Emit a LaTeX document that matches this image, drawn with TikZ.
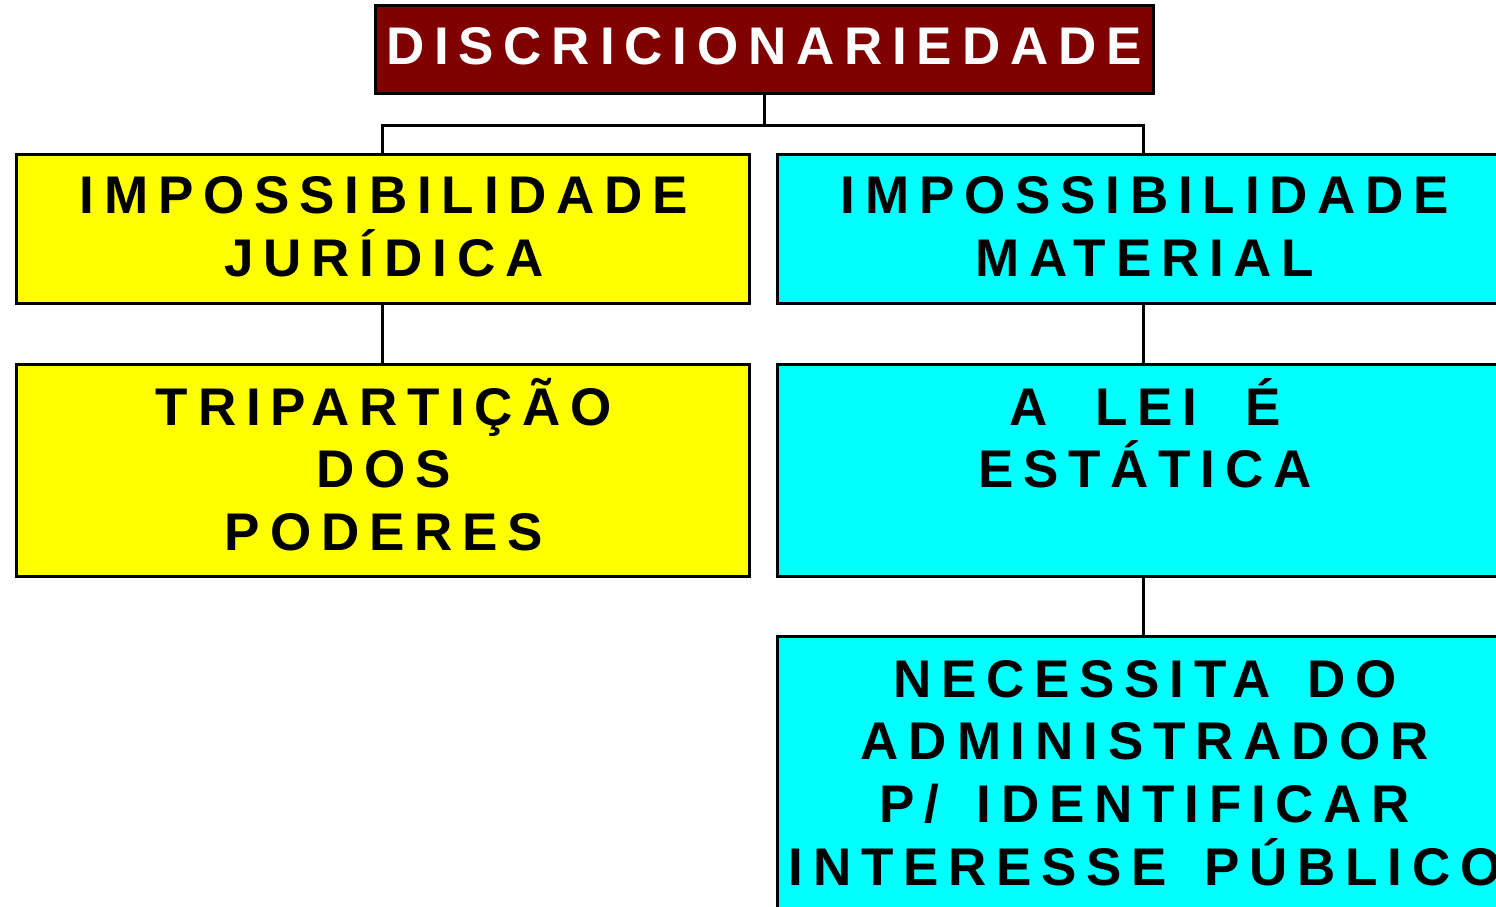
\documentclass[tikz,border=0pt]{standalone}
\usepackage{fontspec}
\setmainfont{Liberation Sans}[LetterSpace=18.5,WordSpace=1.5]
\definecolor{boxred}{HTML}{800000}
\definecolor{boxyellow}{HTML}{FFFF00}
\definecolor{boxcyan}{HTML}{00FFFF}
\begin{document}
\begin{tikzpicture}[x=1pt,y=-1pt,
  box/.style={draw=black, line width=3pt, anchor=north west, inner sep=0pt, outer sep=0pt},
  conn/.style={draw=black, line width=3pt},
  txt/.style={anchor=base, inner sep=0pt, font=\fontsize{53}{62}\selectfont\bfseries}]
\useasboundingbox (0,0) rectangle (1496,907);
\clip (0,0) rectangle (1496,907);
% boxes
\node[box, fill=boxred, minimum width=778pt, minimum height=87pt] (top) at (375,6) {};
\node[box, fill=boxyellow, minimum width=733pt, minimum height=149pt] (jur) at (16,154) {};
\node[box, fill=boxcyan, minimum width=732pt, minimum height=149pt] (mat) at (777,154) {};
\node[box, fill=boxyellow, minimum width=733pt, minimum height=212pt] (tri) at (16,364) {};
\node[box, fill=boxcyan, minimum width=732pt, minimum height=212pt] (lei) at (777,364) {};
\node[box, fill=boxcyan, minimum width=732pt, minimum height=320pt] (nec) at (777,636) {};
% connectors
\coordinate (hub) at (763,125);
\draw[conn] (top.south) -- (top.south |- hub);
\draw[conn] (jur.north) |- (hub) -| (mat.north);
\draw[conn] (jur.south) -- (tri.north);
\draw[conn] (mat.south) -- (lei.north);
\draw[conn] (lei.south) -- (nec.north);
% texts
\node[txt, text=white] (t0) at (764,65) {DISCRICIONARIEDADE};
\node[txt] (t1) at (384,213) {IMPOSSIBILIDADE};
\node[txt] (t2) at (384,276) {JURÍDICA};
\node[txt] (t3) at (1145,213) {IMPOSSIBILIDADE};
\node[txt] (t4) at (1145,276) {MATERIAL};
\node[txt] (t5) at (384,425) {TRIPARTIÇÃO};
\node[txt] (t6) at (384,487) {DOS};
\node[txt] (t7) at (384,550) {PODERES};
\node[txt] (t8) at (1145,425) {A\hspace{11pt} LEI\hspace{11pt} É};
\node[txt] (t9) at (1145,487) {ESTÁTICA};
\node[txt] (t10) at (1145,697) {NECESSITA DO};
\node[txt] (t11) at (1145,759) {ADMINISTRADOR};
\node[txt] (t12) at (1145,822) {P/ IDENTIFICAR};
\node[txt] (t13) at (1145,885) {INTERESSE PÚBLICO};
\end{tikzpicture}
\end{document}
